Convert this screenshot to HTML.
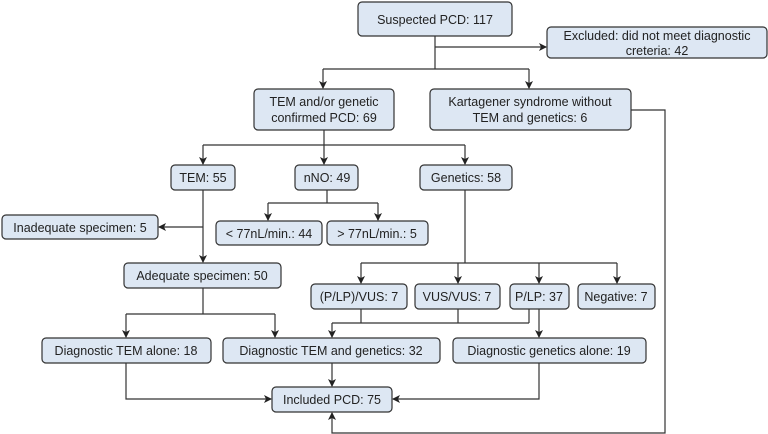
<!DOCTYPE html>
<html><head><meta charset="utf-8"><style>
html,body{margin:0;padding:0;background:#fff;width:768px;height:434px;overflow:hidden}
svg text{font-family:"Liberation Sans",sans-serif;font-size:12.5px;fill:#222}
</style></head><body>
<svg width="768" height="434" viewBox="0 0 768 434" xmlns="http://www.w3.org/2000/svg">
<defs><marker id="a" markerWidth="8" markerHeight="8" refX="7" refY="4" orient="auto" markerUnits="userSpaceOnUse"><path d="M0,0 L8,4 L0,8 L2,4 z" fill="#222"/></marker></defs>
<g fill="#dde7f3" stroke="#333" stroke-width="1.2">
<rect x="358" y="2" width="154" height="34" rx="4"/>
<rect x="547" y="27" width="220" height="31" rx="4"/>
<rect x="254" y="89" width="140" height="41" rx="4"/>
<rect x="430" y="89" width="201" height="41" rx="4"/>
<rect x="171" y="165" width="64" height="25" rx="4"/>
<rect x="295" y="165" width="63" height="25" rx="4"/>
<rect x="420" y="165" width="92" height="25" rx="4"/>
<rect x="2" y="215" width="156" height="24" rx="4"/>
<rect x="216" y="221" width="106" height="24" rx="4"/>
<rect x="327" y="221" width="101" height="24" rx="4"/>
<rect x="124" y="263" width="157" height="25" rx="4"/>
<rect x="311" y="284" width="96" height="25" rx="4"/>
<rect x="415" y="284" width="85" height="25" rx="4"/>
<rect x="510" y="284" width="59" height="25" rx="4"/>
<rect x="578" y="284" width="77" height="25" rx="4"/>
<rect x="42" y="338" width="169" height="25" rx="4"/>
<rect x="223" y="338" width="217" height="25" rx="4"/>
<rect x="453" y="338" width="193" height="25" rx="4"/>
<rect x="272" y="387" width="120" height="25" rx="4"/>
</g>
<g fill="none" stroke="#333" stroke-width="1.2">
<path d="M435,36 V69"/>
<path d="M435,47 H546" marker-end="url(#a)"/>
<path d="M323,69 H529"/>
<path d="M323,69 V88" marker-end="url(#a)"/>
<path d="M529,69 V88" marker-end="url(#a)"/>
<path d="M324,130 V145 M203,145 H465"/>
<path d="M203,145 V164" marker-end="url(#a)"/>
<path d="M324,145 V164" marker-end="url(#a)"/>
<path d="M465,145 V164" marker-end="url(#a)"/>
<path d="M327,190 V203 M268,203 H378"/>
<path d="M268,203 V220" marker-end="url(#a)"/>
<path d="M378,203 V220" marker-end="url(#a)"/>
<path d="M203,190 V262" marker-end="url(#a)"/>
<path d="M203,227 H159" marker-end="url(#a)"/>
<path d="M465,190 V263 M361,263 H617"/>
<path d="M361,263 V283" marker-end="url(#a)"/>
<path d="M458,263 V283" marker-end="url(#a)"/>
<path d="M539,263 V283" marker-end="url(#a)"/>
<path d="M617,263 V283" marker-end="url(#a)"/>
<path d="M203,288 V314 M126,314 H275"/>
<path d="M126,314 V337" marker-end="url(#a)"/>
<path d="M275,314 V337" marker-end="url(#a)"/>
<path d="M361,309 V323 M458,309 V323 M529,309 V323 M332,323 H529"/>
<path d="M332,323 V337" marker-end="url(#a)"/>
<path d="M539,309 V337" marker-end="url(#a)"/>
<path d="M332,363 V386" marker-end="url(#a)"/>
<path d="M126,363 V399 H271" marker-end="url(#a)"/>
<path d="M539,363 V399 H393" marker-end="url(#a)"/>
<path d="M631,110 H665 V433 H332 V413" marker-end="url(#a)"/>
</g>
<g text-anchor="middle">
<text x="435" y="24">Suspected PCD: 117</text>
<text x="657" y="40">Excluded: did not meet diagnostic</text>
<text x="657" y="55">creteria: 42</text>
<text x="324" y="106">TEM and/or genetic</text>
<text x="324" y="122">confirmed PCD: 69</text>
<text x="530" y="106">Kartagener syndrome without</text>
<text x="530" y="122">TEM and genetics: 6</text>
<text x="203" y="182">TEM: 55</text>
<text x="327" y="182">nNO: 49</text>
<text x="466" y="182">Genetics: 58</text>
<text x="80" y="232">Inadequate specimen: 5</text>
<text x="269" y="238">&lt; 77nL/min.: 44</text>
<text x="377" y="238">&gt; 77nL/min.: 5</text>
<text x="202" y="280">Adequate specimen: 50</text>
<text x="359" y="301">(P/LP)/VUS: 7</text>
<text x="457" y="301">VUS/VUS: 7</text>
<text x="539" y="301">P/LP: 37</text>
<text x="616" y="301">Negative: 7</text>
<text x="126" y="355">Diagnostic TEM alone: 18</text>
<text x="331" y="355">Diagnostic TEM and genetics: 32</text>
<text x="549" y="355">Diagnostic genetics alone: 19</text>
<text x="332" y="404">Included PCD: 75</text>
</g>
</svg>
</body></html>
